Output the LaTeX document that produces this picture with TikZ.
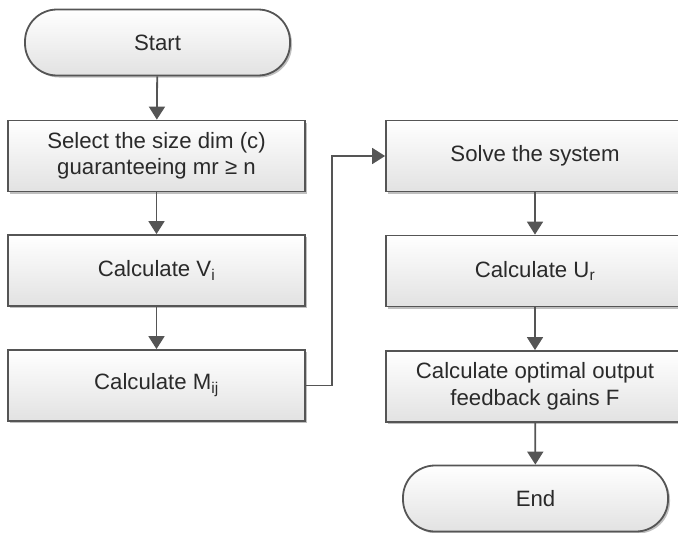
\documentclass[tikz,border=0pt]{standalone}
\usepackage{fontspec}
\setmainfont{Liberation Sans}
\usetikzlibrary{arrows.meta,shadows}
\definecolor{edge}{HTML}{555555}
\definecolor{txt}{HTML}{2A2A2A}
\definecolor{fillbot}{HTML}{E2E2E2}
\begin{document}
\begin{tikzpicture}[x=1pt,y=-1pt,
  base/.style={draw=edge, line width=1.8pt, top color=white, bottom color=fillbot,
    text=txt, font=\fontsize{22.2}{26.5}\selectfont, align=center, inner sep=0pt,
    drop shadow={shadow xshift=2pt, shadow yshift=-2pt, opacity=0.25, fill=black}},
  procbox/.style={base, rectangle, minimum width=297pt, minimum height=71pt},
  termbox/.style={base, rectangle, rounded corners=32pt, minimum width=265pt, minimum height=66pt},
  conn/.style={draw=edge, line width=1.8pt, -{Triangle[width=16pt,length=13pt]}}]
\useasboundingbox (0,0) rectangle (678,533);
\begin{scope}
\clip (0,0) rectangle (678,533);
\node[termbox] (start) at (157.5,42.5) {Start};
\node[procbox] (sel) at (156.5,156) {Select the size dim (c)\\guaranteeing mr ≥ n};
\node[procbox] (vi) at (156.5,270.5) {Calculate V\textsubscript{i}};
\node[procbox] (mij) at (156.5,385.5) {Calculate M\textsubscript{ij}};
\node[procbox, minimum width=298pt] (solve) at (535,156) {Solve the system};
\node[procbox, minimum width=298pt] (ur) at (535,271) {Calculate U\textsubscript{r}};
\node[procbox, minimum width=298pt] (opt) at (535,386.5) {Calculate optimal output\\feedback gains F};
\node[termbox] (end) at (535.5,498.5) {End};
\draw[conn] (start) -- (sel);
\draw[conn] (sel) -- (vi);
\draw[conn] (vi) -- (mij);
\coordinate (bend) at (332,385.5);
\draw[conn] (mij.east) -- (bend) |- (solve.west);
\draw[conn] (solve) -- (ur);
\draw[conn] (ur) -- (opt);
\draw[conn] (opt) -- (end);
\end{scope}
\end{tikzpicture}
\end{document}
